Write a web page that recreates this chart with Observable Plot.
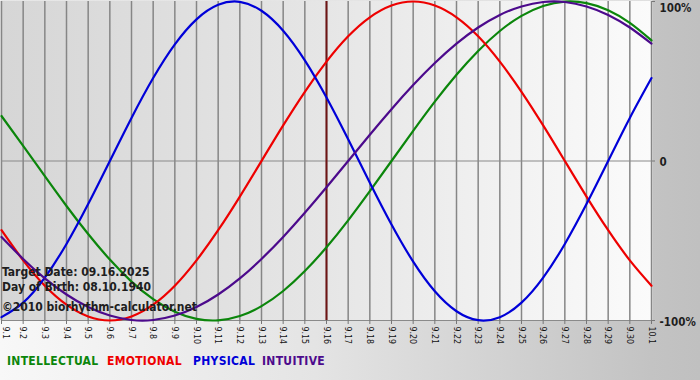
<!DOCTYPE html>
<html><head><meta charset="utf-8">
<script src="https://cdn.jsdelivr.net/npm/d3@7"></script>
<script src="https://cdn.jsdelivr.net/npm/@observablehq/plot@0.6"></script>
<style>
html,body{margin:0;padding:0;background:#fff;}
#wrap{position:relative;width:700px;height:380px;overflow:hidden;
  background:linear-gradient(to right,#f8f8f8 0%,#e4e4e4 45%,#c3c3c3 93%,#c0c0c0 100%);
  font-family:"DejaVu Sans Condensed","DejaVu Sans",Verdana,sans-serif;}
#chart{position:absolute;left:0;top:0;}
.info{position:absolute;left:2px;font-weight:bold;font-size:12px;line-height:12px;color:#1e1e1e;white-space:nowrap;}
.leg{position:absolute;top:355px;font-weight:bold;font-size:12px;line-height:12px;white-space:nowrap;letter-spacing:0.3px;}
</style></head>
<body>
<div id="wrap">
  <div id="chart"></div>
  <div class="info" style="top:266px">Target Date: 09.16.2025</div>
  <div class="info" style="top:281px">Day of Birth: 08.10.1940</div>
  <div class="info" style="top:301px">©2010 biorhythm-calculator.net</div>
  <div id="legend"></div>
</div>
<script>
// Day tick labels (Sept 1 .. Oct 1)
const dayLabels = ["9.1","9.2","9.3","9.4","9.5","9.6","9.7","9.8","9.9","9.10",
  "9.11","9.12","9.13","9.14","9.15","9.16","9.17","9.18","9.19","9.20",
  "9.21","9.22","9.23","9.24","9.25","9.26","9.27","9.28","9.29","9.30","10.1"];
const targetLabel = "9.16";

// Series values per day (-1 .. 1)
const intellectual = [0.282,0.095,-0.095,-0.282,-0.458,-0.618,-0.756,-0.866,-0.945,-0.990,
  -0.999,-0.972,-0.910,-0.815,-0.690,-0.541,-0.372,-0.189,0,0.189,
  0.372,0.541,0.690,0.815,0.910,0.972,0.999,0.990,0.945,0.866,0.756];
const emotional = [-0.434,-0.623,-0.782,-0.901,-0.975,-1,-0.975,-0.901,-0.782,-0.623,
  -0.434,-0.223,0,0.223,0.434,0.623,0.782,0.901,0.975,1,
  0.975,0.901,0.782,0.623,0.434,0.223,0,-0.223,-0.434,-0.623,-0.782];
const physical = [-0.979,-0.888,-0.731,-0.520,-0.270,0,0.270,0.520,0.731,0.888,
  0.979,0.998,0.942,0.817,0.631,0.398,0.136,-0.136,-0.398,-0.631,
  -0.817,-0.942,-0.998,-0.979,-0.888,-0.731,-0.520,-0.270,0,0.270,0.520];
const intuitive = [-0.476,-0.614,-0.736,-0.837,-0.916,-0.969,-0.997,-0.997,-0.969,-0.916,
  -0.837,-0.736,-0.614,-0.476,-0.325,-0.165,0,0.165,0.325,0.476,
  0.614,0.736,0.837,0.916,0.969,0.997,0.997,0.969,0.916,0.837,0.736];

const seriesNames = ["INTELLECTUAL","EMOTIONAL","PHYSICAL","INTUITIVE"];
const seriesColors = ["#0b860b","#ee0000","#0000d8","#4c0a8c"];
const seriesData = [intellectual, emotional, physical, intuitive];

const yTickValues = [1, 0, -1];
const yTickLabels = ["100%", "0", "-100%"];

const rows = [];
seriesData.forEach((vals, s) => vals.forEach((v, i) => rows.push({series: seriesNames[s], i, v})));
const idx = dayLabels.map((d, i) => i);
const targetIdx = dayLabels.indexOf(targetLabel);
const lastIdx = dayLabels.length - 1;

const chart = Plot.plot({
  width: 700, height: 350,
  marginLeft: 1, marginRight: 49, marginTop: 1, marginBottom: 30,
  style: {background: "transparent", fontFamily: "'DejaVu Sans Condensed','DejaVu Sans',sans-serif"},
  x: {type: "linear", domain: [0, lastIdx], axis: null},
  y: {type: "linear", domain: [-1, 1], axis: null},
  color: {domain: seriesNames, range: seriesColors},
  marks: [
    Plot.frame({fill: "url(#plotbg)", stroke: "none", insetLeft: -1, insetRight: -1, insetTop: -1}),
    Plot.ruleX(idx, {x: d => d, stroke: "#868686", strokeWidth: 1.5}),
    Plot.ruleY([0], {y: d => d, stroke: "#8a8a8a", strokeWidth: 1.2}),
    Plot.ruleY([-1], {y: d => d, stroke: "#8a8a8a", strokeWidth: 1.2}),
    Plot.ruleX([targetIdx], {x: d => d, stroke: "#6e1414", strokeWidth: 2}),
    Plot.axisX({ticks: idx, tickFormat: i => dayLabels[i], tickRotate: 90, tickSize: 4, tickPadding: 2,
      fontSize: 8.8, stroke: "#777", fill: "#111", anchor: "bottom", label: null}),
    Plot.axisY({ticks: yTickValues, tickFormat: () => "", tickSize: 3, anchor: "right", stroke: "#777", label: null}),
    Plot.line(rows, {x: "i", y: "v", z: "series", stroke: "series", strokeWidth: 2.2, curve: "natural"}),
    Plot.text([0], {x: () => lastIdx, y: () => yTickValues[0], text: () => yTickLabels[0], textAnchor: "start",
      lineAnchor: "top", dx: 8, dy: 2, fontSize: 11.5, fontWeight: "bold", fill: "#1e1e1e"}),
    Plot.text([1, 2], {x: () => lastIdx, y: k => yTickValues[k], text: k => yTickLabels[k], textAnchor: "start",
      lineAnchor: "middle", dx: 8, dy: 1.5, fontSize: 11.5, fontWeight: "bold", fill: "#1e1e1e"})
  ]
});

const svg = d3.select(chart);
const defs = svg.insert("defs", ":first-child");
const g = defs.append("linearGradient").attr("id", "plotbg").attr("x1", "0").attr("x2", "1").attr("y1", "0").attr("y2", "0");
g.append("stop").attr("offset", "0").attr("stop-color", "#d6d6d6");
g.append("stop").attr("offset", "0.5").attr("stop-color", "#e6e6e6");
g.append("stop").attr("offset", "1").attr("stop-color", "#fbfbfb");
// keep the first (edge) tick label inside the picture
svg.selectAll("[aria-label='x-axis tick label'] text").filter((d, i) => i === 0)
  .each(function(){ const t = this.getAttribute("transform") || ""; this.setAttribute("transform", "translate(4,0) " + t); });

document.getElementById("chart").appendChild(chart);

const legendLeft = [7, 107, 193, 262];
const legend = document.getElementById("legend");
seriesNames.forEach((n, k) => {
  const s = document.createElement("span");
  s.className = "leg";
  s.style.left = legendLeft[k] + "px";
  s.style.color = seriesColors[k];
  s.textContent = n;
  legend.appendChild(s);
});
</script>
</body></html>
